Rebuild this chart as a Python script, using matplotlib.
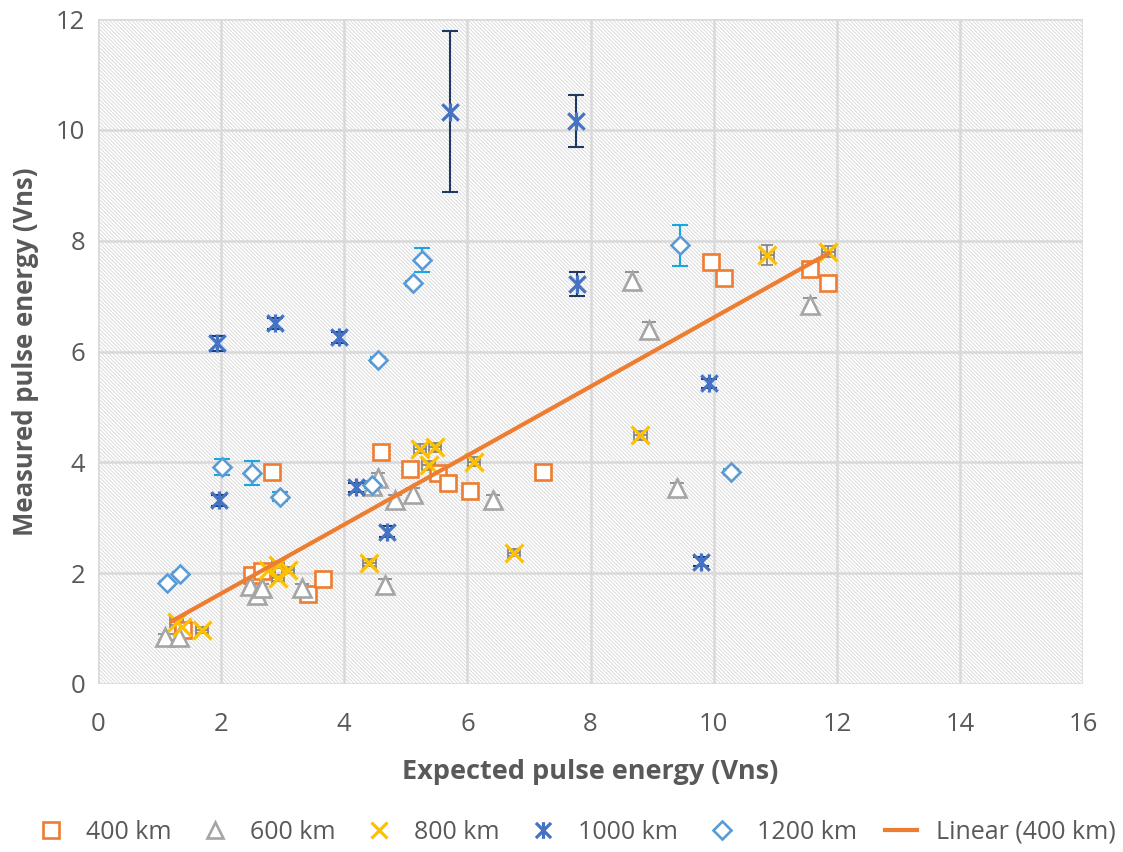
import matplotlib
matplotlib.use("Agg")
import matplotlib.pyplot as plt
from matplotlib.path import Path
from matplotlib.patches import Rectangle
from matplotlib.lines import Line2D
import numpy as np

plt.rcParams['font.family'] = ['Open Sans', 'DejaVu Sans']
plt.rcParams['hatch.linewidth'] = 0.6

# ---- data -------------------------------------------------------------
x_400 = [1.38, 2.50, 2.66, 2.82, 3.42, 3.66, 4.59, 5.07, 5.53, 5.69, 6.05, 7.23, 9.95, 10.17, 11.56, 11.86]
y_400 = [0.98, 1.96, 2.04, 3.83, 1.62, 1.89, 4.19, 3.88, 3.80, 3.63, 3.49, 3.83, 7.62, 7.32, 7.49, 7.24]

x_600 = [1.09, 1.31, 2.47, 2.58, 2.66, 3.31, 4.45, 4.55, 4.66, 4.82, 5.12, 6.42, 8.67, 8.95, 9.40, 11.56]
y_600 = [0.85, 0.85, 1.76, 1.61, 1.73, 1.73, 3.57, 3.71, 1.79, 3.32, 3.43, 3.32, 7.28, 6.39, 3.53, 6.84]
e_600 = [0.05, 0.05, 0.08, 0.08, 0.08, 0.08, 0.10, 0.10, 0.10, 0.10, 0.10, 0.10, 0.15, 0.15, 0.10, 0.12]

x_800 = [1.28, 1.36, 1.69, 2.77, 2.93, 2.93, 3.09, 4.41, 5.23, 5.47, 5.37, 6.11, 6.76, 8.81, 10.87, 11.86]
y_800 = [1.12, 1.02, 0.97, 2.06, 2.15, 1.91, 2.06, 2.19, 4.25, 4.27, 3.95, 4.01, 2.37, 4.49, 7.74, 7.80]
e_800 = [0.05, 0.05, 0.05, 0.06, 0.06, 0.06, 0.06, 0.06, 0.08, 0.08, 0.08, 0.08, 0.06, 0.08, 0.18, 0.10]

x_1000 = [1.94, 2.87, 3.92, 1.96, 4.19, 4.70, 5.72, 7.76, 7.78, 9.93, 9.80]
y_1000 = [6.15, 6.51, 6.26, 3.32, 3.55, 2.75, 10.33, 10.16, 7.22, 5.43, 2.21]
e_1000 = [0.14, 0.10, 0.10, 0.10, 0.08, 0.10, 1.45, 0.47, 0.22, 0.08, 0.08]

x_1200 = [1.12, 1.33, 2.01, 2.50, 2.96, 4.45, 4.55, 5.12, 5.27, 9.45, 10.28]
y_1200 = [1.82, 1.99, 3.92, 3.81, 3.38, 3.59, 5.85, 7.23, 7.65, 7.92, 3.83]
e_1200 = [0.03, 0.03, 0.15, 0.21, 0.08, 0.05, 0.05, 0.05, 0.22, 0.37, 0.05]

x_ticks = [0, 2, 4, 6, 8, 10, 12, 14, 16]
y_ticks = [0, 2, 4, 6, 8, 10, 12]

# ---- colours ----------------------------------------------------------
C_ORANGE = '#ED7D31'
C_GREY = '#A5A5A5'
C_YELLOW = '#FFC000'
C_BLUE = '#4472C4'
C_NAVY = '#203864'
C_LBLUE = '#5B9BD5'
C_CYAN = '#1AA7E0'
TXT = '#595959'

# asterisk marker: an X plus a vertical stroke
star_path = Path([(-1, -1), (1, 1), (-1, 1), (1, -1), (0, -1.1), (0, 1.1)],
                 [Path.MOVETO, Path.LINETO, Path.MOVETO, Path.LINETO, Path.MOVETO, Path.LINETO])

fig = plt.figure(figsize=(11.23, 8.52), dpi=100)
ax = fig.add_axes([0.0871, 0.1972, 0.8776, 0.7803])

ax.set_xlim(0, 16)
ax.set_ylim(0, 12)

# hatched plot area
ax.add_patch(Rectangle((0, 0), 16, 12, facecolor='white', edgecolor='#D6D6D6',
                       hatch='\\' * 9, linewidth=0, zorder=0))

ax.set_xticks(x_ticks)
ax.set_yticks(y_ticks)
ax.grid(True, color='#D9D9D9', linewidth=1.8, zorder=1)
ax.set_axisbelow(True)
for s in ax.spines.values():
    s.set_visible(False)
ax.tick_params(length=0, labelsize=18.5, labelcolor=TXT)
ax.tick_params(axis='x', pad=20)
ax.tick_params(axis='y', pad=9)

ms = 11.5
mew = 1.9

# error bars (drawn beneath the markers)
ax.errorbar(x_600, y_600, yerr=e_600, fmt='none', ecolor='#8C8C8C', elinewidth=1.3,
            capsize=5, capthick=1.3, zorder=3)
ax.errorbar(x_800, y_800, yerr=e_800, xerr=0.1, fmt='none', ecolor='#7F7F7F', elinewidth=1.2,
            capsize=4, capthick=1.2, zorder=3)
ax.errorbar(x_1000, y_1000, yerr=e_1000, fmt='none', ecolor=C_NAVY, elinewidth=1.5,
            capsize=6, capthick=1.5, zorder=3)
ax.errorbar(x_1200, y_1200, yerr=e_1200, fmt='none', ecolor=C_CYAN, elinewidth=1.5,
            capsize=6, capthick=1.5, zorder=3)

# series markers
ax.plot(x_400, y_400, ls='none', marker='s', ms=ms, mfc='white', mec=C_ORANGE, mew=mew,
        zorder=4, label='400 km')
ax.plot(x_600, y_600, ls='none', marker='^', ms=ms + 1, mfc='white', mec=C_GREY, mew=mew,
        zorder=4, label='600 km')
ax.plot(x_800, y_800, ls='none', marker='x', ms=ms + 1, mec=C_YELLOW, mew=2.3,
        zorder=5, label='800 km')
ax.plot(x_1000, y_1000, ls='none', marker=star_path, ms=13, mec=C_BLUE, mew=2.3,
        zorder=5, label='1000 km')
ax.plot(x_1200, y_1200, ls='none', marker='D', ms=ms - 2, mfc='white', mec=C_LBLUE, mew=mew,
        zorder=4, label='1200 km')

# least-squares trendline through the 400 km series
slope, intercept = np.polyfit(x_400, y_400, 1)
xt = np.array([min(x_400) - 0.18, max(x_400)])
ax.plot(xt, slope * xt + intercept, color=C_ORANGE, lw=3, zorder=6, label='Linear (400 km)')

ax.set_xlabel('Expected pulse energy (Vns)', fontsize=19.5, fontweight='bold', color=TXT, labelpad=16)
ax.set_ylabel('Measured pulse energy (Vns)', fontsize=18.5, fontweight='bold', color=TXT, labelpad=12)

handles = [
    Line2D([], [], ls='none', marker='s', ms=11, mfc='white', mec=C_ORANGE, mew=mew),
    Line2D([], [], ls='none', marker='^', ms=12, mfc='white', mec=C_GREY, mew=mew),
    Line2D([], [], ls='none', marker='x', ms=12, mec=C_YELLOW, mew=2.3),
    Line2D([], [], ls='none', marker=star_path, ms=12, mec=C_BLUE, mew=2.3),
    Line2D([], [], ls='none', marker='D', ms=9, mfc='white', mec=C_LBLUE, mew=mew),
    Line2D([], [], color=C_ORANGE, lw=3),
]
labels = ['400 km', '600 km', '800 km', '1000 km', '1200 km', 'Linear (400 km)']
leg = fig.legend(handles, labels, loc='center', bbox_to_anchor=(0.512, 0.023), ncol=6,
                 frameon=False, fontsize=18, handlelength=1.3, handletextpad=0.75,
                 columnspacing=1.1, borderpad=0.2)
for t in leg.get_texts():
    t.set_color(TXT)

fig.savefig('out.png', dpi=100)
